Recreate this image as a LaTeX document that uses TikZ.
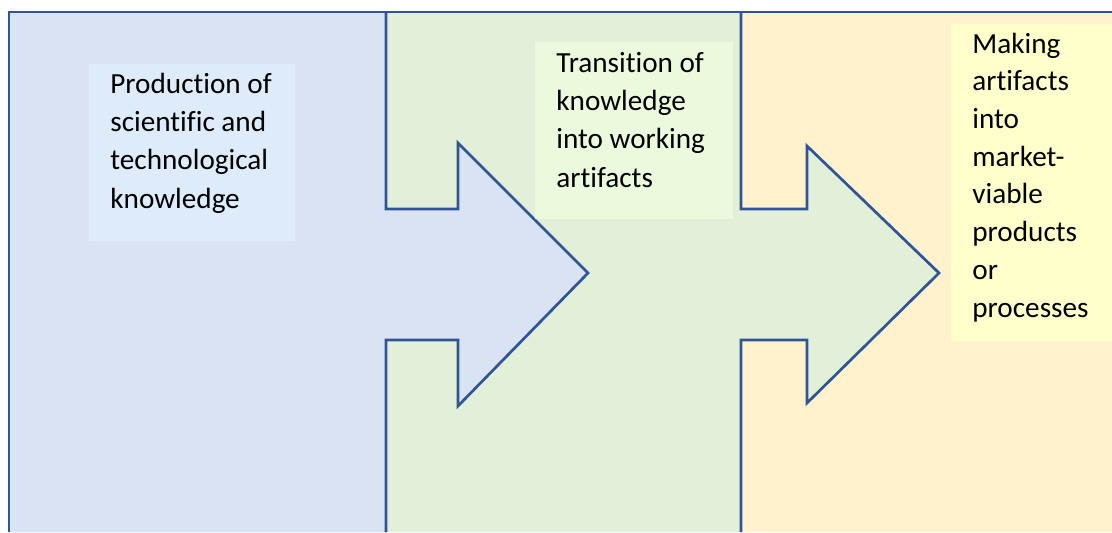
\documentclass[tikz,border=0pt]{standalone}
\usepackage{fontspec}
\setmainfont[Ligatures=CommonOff]{Carlito}
\definecolor{lineblue}{HTML}{2F5597}
\definecolor{fillblue}{HTML}{DAE3F3}
\definecolor{fillgreen}{HTML}{E2F0D9}
\definecolor{fillorange}{HTML}{FFF2CC}
\definecolor{boxblue}{HTML}{DDEBFA}
\definecolor{boxgreen}{HTML}{EBFADC}
\definecolor{boxyellow}{HTML}{FFFFCC}
\begin{document}
\begin{tikzpicture}[x=0.5pt,y=-0.5pt,
  outline/.style={draw=lineblue,line width=1.35pt,line join=miter},
  labeltext/.style={anchor=base west,inner sep=0pt,align=left,
    font=\fontsize{14.6}{19.15}\selectfont,text=black},
  labelbox/.style={anchor=north west,inner sep=0pt,draw=none}]
\useasboundingbox (0,0) rectangle (1112,532);
% orange region
\fill[fillorange] (741,12) rectangle (1112,532);
% green region with arrow
\fill[fillgreen] (386,12) -- (741,12) -- (741,209) -- (807,209) -- (807,146) -- (939,273)
  -- (807,403) -- (807,340) -- (741,340) -- (741,532) -- (386,532) -- cycle;
% blue region with arrow
\fill[fillblue] (9,12) -- (386,12) -- (386,209) -- (458,209) -- (458,143) -- (588,273)
  -- (458,406) -- (458,340) -- (386,340) -- (386,532) -- (9,532) -- cycle;
% outlines
\draw[outline] (9,532) -- (9,12) -- (1112,12);
\draw[outline] (386,12) -- (386,209) -- (458,209) -- (458,143) -- (588,273)
  -- (458,406) -- (458,340) -- (386,340) -- (386,532);
\draw[outline] (741,12) -- (741,209) -- (807,209) -- (807,146) -- (939,273)
  -- (807,403) -- (807,340) -- (741,340) -- (741,532);
% label boxes
\node[labelbox,fill=boxblue,minimum width=103pt,minimum height=88.5pt] (b1) at (89,64) {};
\node[labelbox,fill=boxgreen,minimum width=99pt,minimum height=88.5pt] (b2) at (535,42) {};
\node[labelbox,fill=boxyellow,minimum width=80.5pt,minimum height=158.5pt] (b3) at (951,24) {};
% texts (base anchor = baseline of the last line)
\node[labeltext] (t1) at (110,208) {Production of\\scientific and\\technological\\knowledge};
\node[labeltext] (t2) at (556,187) {Transition of\\knowledge\\into working\\artifacts};
\node[labeltext,font=\fontsize{14.6}{18.85}\selectfont] (t3) at (972,317) {Making\\artifacts\\into\\market-\\viable\\products\\or\\processes};
\end{tikzpicture}
\end{document}
